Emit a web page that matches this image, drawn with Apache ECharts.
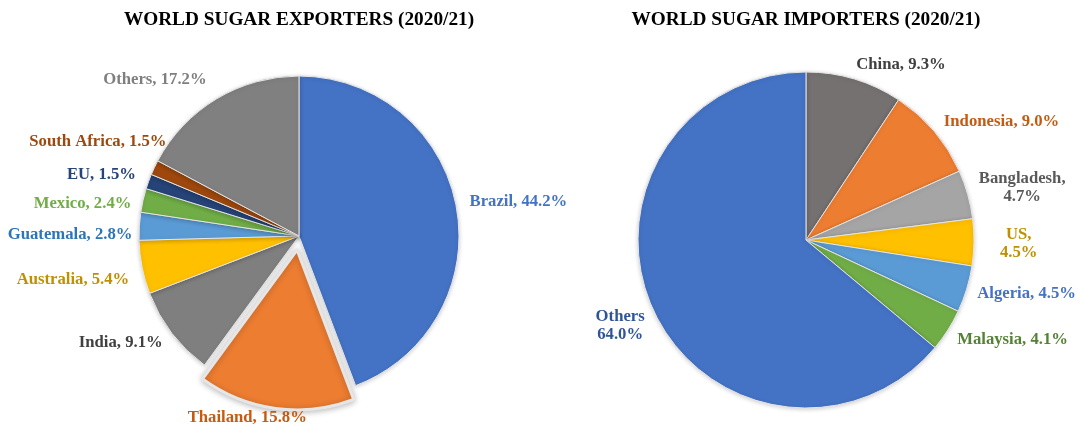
<!DOCTYPE html>
<html>
<head>
<meta charset="utf-8">
<script src="https://cdn.jsdelivr.net/npm/echarts@6/dist/echarts.min.js"></script>
<style>
  html, body { margin: 0; padding: 0; background: #fff; }
  #chart { width: 1080px; height: 428px; }
</style>
</head>
<body>
<div id="chart"></div>
<script>
// Exporters, clockwise from 12 o'clock
const exportNames = ['Brazil', 'Thailand', 'India', 'Australia', 'Guatemala', 'Mexico', 'EU', 'South Africa', 'Others'];
const exportShares = [44.2, 15.8, 9.1, 5.4, 2.8, 2.4, 1.5, 1.5, 17.2];
const exportFill = ['#4472C4', '#ED7D31', '#7F7F7F', '#FFC000', '#5B9BD5', '#70AD47', '#264478', '#9E480E', '#808080'];
const exportText = ['#4472C4', '#C55A11', '#404040', '#BF9000', '#2E75B6', '#70AD47', '#264478', '#9E480E', '#7F7F7F'];

// Importers, clockwise from 12 o'clock
const importNames = ['China', 'Indonesia', 'Bangladesh', 'US', 'Algeria', 'Malaysia', 'Others'];
const importShares = [9.3, 9.0, 4.7, 4.5, 4.5, 4.1, 64.0];
const importFill = ['#767171', '#ED7D31', '#A5A5A5', '#FFC000', '#5B9BD5', '#70AD47', '#4472C4'];
const importText = ['#404040', '#C55A11', '#595959', '#BF9000', '#4472C4', '#548235', '#2F5597'];
// names whose label wraps onto two lines
const importWrap = { 'Bangladesh': ',\n', 'US': ',\n', 'Others': '\n' };

const FONT = '"Liberation Serif", "Times New Roman", serif';
const LABEL_GAP = 6;      // space between the rim and the label box
const EXPLODE = 14;       // offset of the pulled-out slice

// hand-set label nudges (px) so that crowded labels spread out
const exportNudge = [[8, -3], [0, 0], [-13, 0], [-8, 10], [-1, 9], [-7, 7], [-9, -2], [11, -19], [-32, -6]];
const importNudge = [[32, 0], [19, 0], [7, 0], [20, 1], [7, 0], [13, 1], [-6, 4]];

const pies = [
  { center: [299, 236], radius: 160, shares: exportShares, names: exportNames, exploded: 'Thailand', nudge: exportNudge },
  { center: [806, 240], radius: 168, shares: importShares, names: importNames, exploded: null, nudge: importNudge }
];

function fmt(v) { return v.toFixed(1) + '%'; }

const exportData = exportNames.map((n, i) => {
  const item = {
    name: n,
    value: exportShares[i],
    itemStyle: { color: exportFill[i] },
    label: { color: exportText[i], formatter: n + ', ' + fmt(exportShares[i]) }
  };
  if (n === pies[0].exploded) {
    // the pulled-out slice keeps the label position of its "selected" state,
    // so its label is placed through the label line geometry instead
    item.selected = true;
    item.itemStyle = {
      color: exportFill[i], borderColor: '#E6E6E6', borderWidth: 3,
      shadowBlur: 6, shadowColor: 'rgba(0,0,0,0.25)', shadowOffsetY: 1
    };
    item.labelLine = { show: false, length: 9.4, length2: 22 };
  }
  return item;
});

const importData = importNames.map((n, i) => ({
  name: n,
  value: importShares[i],
  itemStyle: { color: importFill[i] },
  label: {
    color: importText[i],
    formatter: n + (importWrap[n] || ', ') + fmt(importShares[i])
  }
}));

// Place each label just outside the rim, on its slice's mid-angle,
// with the box pushed outward so that it sits beyond the rim.
function outsideEnd(params) {
  const p = pies[params.seriesIndex];
  const i = params.dataIndex;
  const total = p.shares.reduce((a, b) => a + b, 0);
  let before = 0;
  for (let k = 0; k < i; k++) before += p.shares[k];
  const mid = (before + p.shares[i] / 2) / total * Math.PI * 2;
  const ux = Math.sin(mid), uy = -Math.cos(mid);
  let r = p.radius + LABEL_GAP;
  if (p.names[i] === p.exploded) r += EXPLODE;
  const w = params.labelRect.width, h = params.labelRect.height;
  return {
    x: p.center[0] + r * ux + ux * w / 2 + p.nudge[i][0],
    y: p.center[1] + r * uy + uy * h / 2 + p.nudge[i][1],
    align: 'center',
    verticalAlign: 'middle'
  };
}

const commonPie = {
  type: 'pie',
  startAngle: 90,
  clockwise: true,
  avoidLabelOverlap: false,
  animation: false,
  selectedMode: 'single',
  selectedOffset: EXPLODE,
  itemStyle: {
    borderColor: '#E6E6E6', borderWidth: 1,
    shadowBlur: 4, shadowColor: 'rgba(0,0,0,0.18)', shadowOffsetY: 1
  },
  label: {
    show: true,
    position: 'outside',
    fontFamily: FONT,
    fontWeight: 'bold',
    fontSize: 16.7,
    lineHeight: 18
  },
  labelLine: { show: false, length: LABEL_GAP, length2: 0 },
  labelLayout: outsideEnd,
  emphasis: { disabled: true }
};

const titleStyle = { fontFamily: FONT, fontWeight: 'bold', fontSize: 19.3, color: '#000' };

const chart = echarts.init(document.getElementById('chart'), null, { renderer: 'canvas' });
chart.setOption({
  backgroundColor: '#fff',
  title: [
    { text: 'WORLD SUGAR EXPORTERS (2020/21)', left: 299, top: 11, padding: 0, textAlign: 'center', textStyle: titleStyle },
    { text: 'WORLD SUGAR IMPORTERS (2020/21)', left: 806, top: 11, padding: 0, textAlign: 'center', textStyle: titleStyle }
  ],
  series: [
    Object.assign({}, commonPie, {
      name: 'Exporters',
      center: pies[0].center,
      radius: pies[0].radius,
      data: exportData
    }),
    Object.assign({}, commonPie, {
      name: 'Importers',
      center: pies[1].center,
      radius: pies[1].radius,
      selectedMode: false,
      data: importData
    })
  ]
});
</script>
</body>
</html>
